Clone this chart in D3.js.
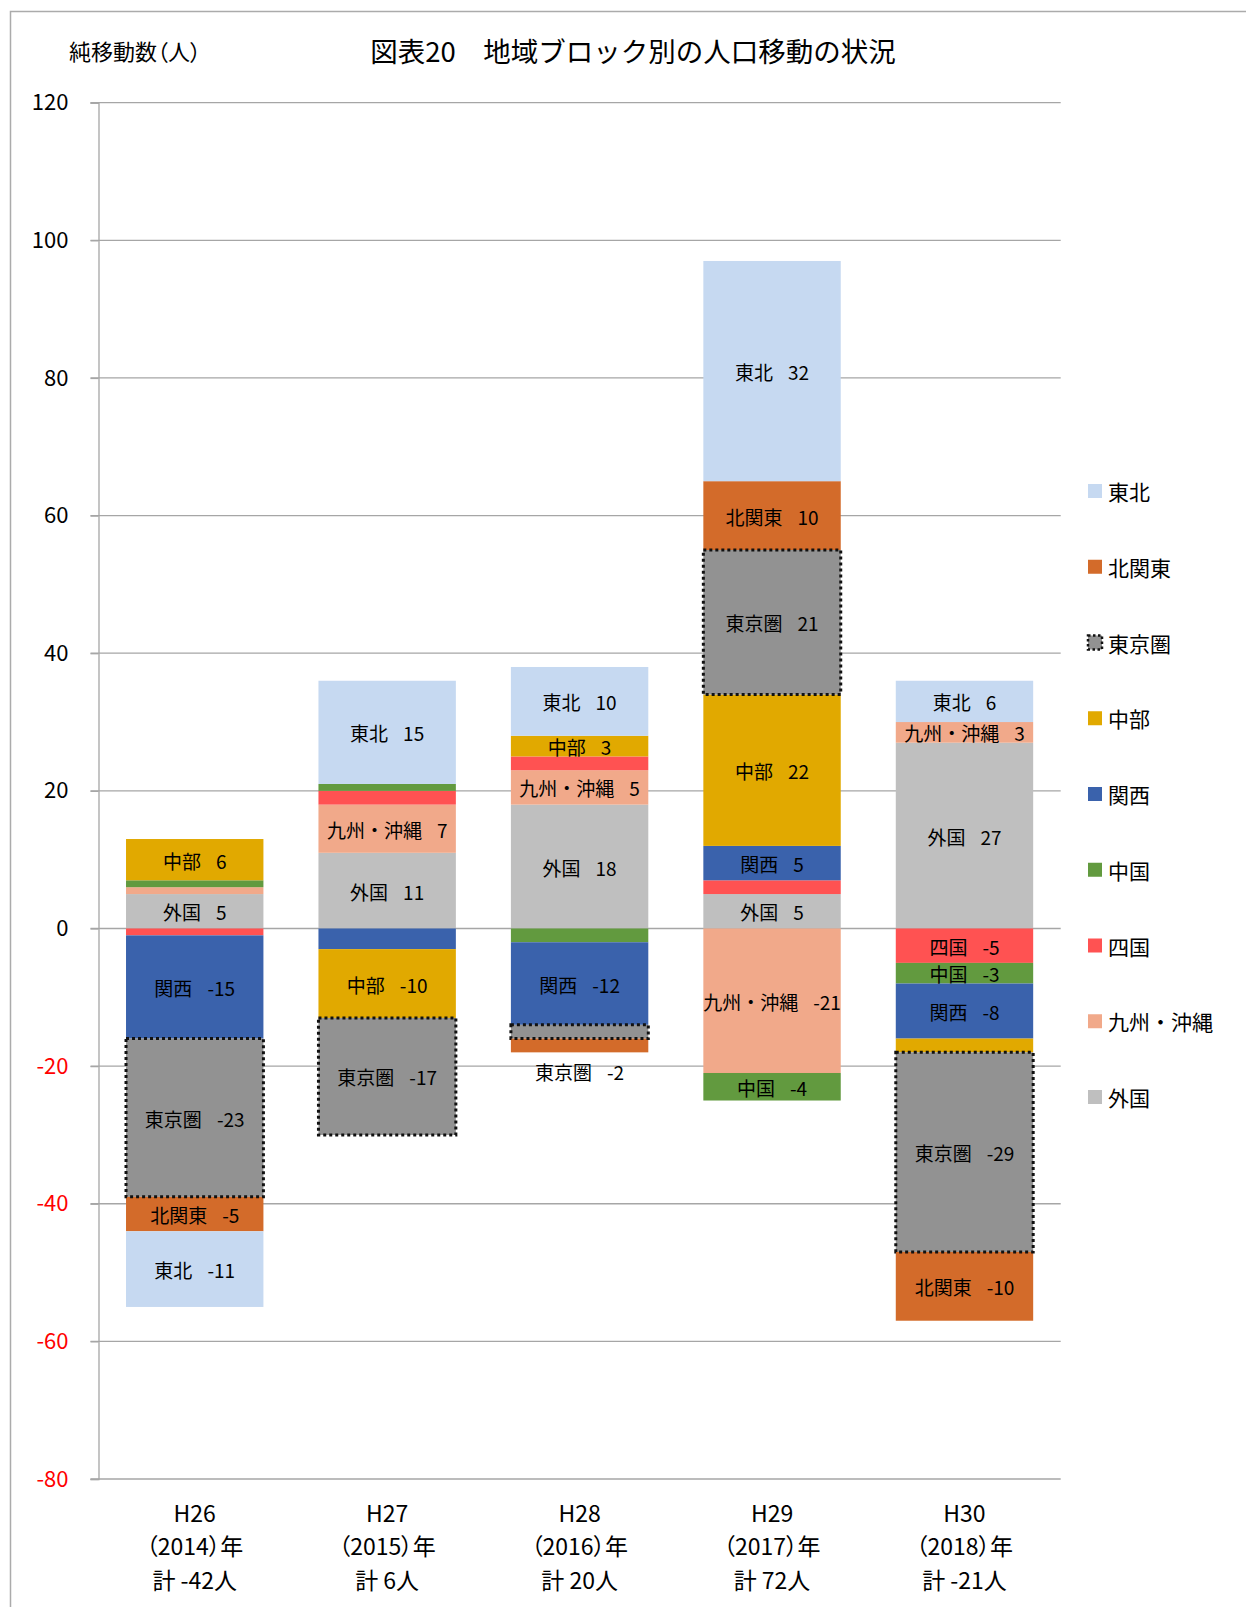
<!DOCTYPE html>
<html>
<head>
<meta charset="utf-8">
<script src="https://cdn.jsdelivr.net/npm/d3@7"></script>
<style>
  html, body { margin: 0; padding: 0; background: #fff; }
  svg { display: block; font-family: "Noto Sans CJK JP", "Noto Sans", sans-serif; }
</style>
</head>
<body>
<svg id="chart" width="1246" height="1607"></svg>
<script>
// Years shown on the category axis
const years = ["H26", "H27", "H28", "H29", "H30"];
const westernYears = ["2014", "2015", "2016", "2017", "2018"];

// Regional blocks, in legend order
const regions = ["東北", "北関東", "東京圏", "中部", "関西", "中国", "四国", "九州・沖縄", "外国"];

// Net migration per block, one value per year (H26..H30)
const tohoku      = [-11, 15, 10, 32, 6];
const kitaKanto   = [-5, 0, -2, 10, -10];
const tokyoArea   = [-23, -17, -2, 21, -29];
const chubu       = [6, -10, 3, 22, -2];
const kansai      = [-15, -3, -12, 5, -8];
const chugoku     = [1, 1, -2, -4, -3];
const shikoku     = [-1, 2, 2, 2, -5];
const kyushu      = [1, 7, 5, -21, 3];
const foreign     = [5, 11, 18, 5, 27];
const seriesValues = [tohoku, kitaKanto, tokyoArea, chubu, kansai, chugoku, shikoku, kyushu, foreign];

const yTicks = [-80, -60, -40, -20, 0, 20, 40, 60, 80, 100, 120];

// Segment labels that are left off, and the one placed under its bar
const hiddenLabels = ["H27|関西"];
const labelsBelowBar = ["H28|東京圏"];

const colors = {
  "東北": "#C6D9F1",
  "北関東": "#D36B2A",
  "東京圏": "#929292",
  "中部": "#E1A900",
  "関西": "#3A62AC",
  "中国": "#629A3F",
  "四国": "#FF5252",
  "九州・沖縄": "#F1A98A",
  "外国": "#BFBFBF"
};

// Row table for the stack layout
const table = years.map((yr, i) => {
  const row = { year: yr };
  regions.forEach((r, k) => { row[r] = seriesValues[k][i]; });
  return row;
});
const totals = years.map((yr, i) => d3.sum(seriesValues, s => s[i]));

// Stacks grow outward from zero starting with 外国
const stackKeys = regions.slice().reverse();
const stacked = d3.stack().keys(stackKeys).offset(d3.stackOffsetDiverging)(table);

const svg = d3.select("#chart");
const plotLeft = 98.5, plotRight = 1060.7, plotTop = 102.7, plotBottom = 1479;

const x = d3.scaleBand().domain(years).range([plotLeft, plotRight])
  .paddingInner(0.286).paddingOuter(0.143);
const y = d3.scaleLinear().domain([-80, 120]).range([plotBottom, plotTop]);

// Outer frame
svg.append("rect").attr("x", 10.5).attr("y", 11.5).attr("width", 1260).attr("height", 1620)
  .attr("fill", "none").attr("stroke", "#ABABAB").attr("stroke-width", 1.5);

// Gridlines
svg.append("g").selectAll("line").data(yTicks).join("line")
  .attr("x1", plotLeft - 8).attr("x2", plotRight)
  .attr("y1", d => y(d)).attr("y2", d => y(d))
  .attr("stroke", "#A6A6A6").attr("stroke-width", 1.3);

// Y axis with tick labels
const yAxis = svg.append("g").attr("transform", `translate(${plotLeft},0)`)
  .call(d3.axisLeft(y).tickValues(yTicks).tickSize(8).tickPadding(22).tickFormat(d => String(d)));
yAxis.select(".domain").attr("stroke", "#A6A6A6").attr("stroke-width", 1.3);
yAxis.selectAll(".tick line").attr("stroke", "#A6A6A6").attr("stroke-width", 1.3);
yAxis.selectAll(".tick text")
  .attr("font-size", 22)
  .attr("font-family", "\"Noto Sans CJK JP\", sans-serif")
  .attr("fill", d => d < 0 ? "#FF0000" : "#000");

// Bars
const barW = x.bandwidth();
const layers = svg.append("g").selectAll("g").data(stacked).join("g")
  .attr("fill", d => colors[d.key]);
layers.selectAll("rect").data(d => d.map(p => ({ key: d.key, p }))).join("rect")
  .attr("x", d => x(d.p.data.year))
  .attr("width", barW)
  .attr("y", d => y(Math.max(d.p[0], d.p[1])))
  .attr("height", d => Math.abs(y(d.p[0]) - y(d.p[1])));

// Dotted outline for 東京圏
const tokyoLayer = stacked.find(s => s.key === "東京圏");
svg.append("g").selectAll("rect").data(tokyoLayer.filter(p => p[0] !== p[1])).join("rect")
  .attr("x", p => x(p.data.year))
  .attr("width", barW)
  .attr("y", p => y(Math.max(p[0], p[1])))
  .attr("height", p => Math.abs(y(p[0]) - y(p[1])))
  .attr("fill", "none").attr("stroke", "#111").attr("stroke-width", 3)
  .attr("stroke-dasharray", "3 3");

// Segment labels
const labelData = [];
stacked.forEach(layer => {
  layer.forEach(p => {
    const v = p.data[layer.key];
    const id = p.data.year + "|" + layer.key;
    if (v === 0) return;
    if (hiddenLabels.includes(id)) return;
    const below = labelsBelowBar.includes(id);
    if (!below && Math.abs(v) < 3) return;
    let cy;
    if (below) {
      const i = years.indexOf(p.data.year);
      const bottom = d3.min(stacked, s => s[i][0]);
      cy = y(bottom) + 19;
    } else {
      cy = (y(p[0]) + y(p[1])) / 2;
    }
    labelData.push({ name: layer.key, v, cx: x(p.data.year) + barW / 2, cy });
  });
});
const labels = svg.append("g").selectAll("text").data(labelData).join("text")
  .attr("x", d => d.cx).attr("y", d => d.cy)
  .attr("text-anchor", "middle").attr("dominant-baseline", "central")
  .attr("font-size", 19).attr("fill", "#000");
labels.append("tspan").text(d => d.name);
labels.append("tspan").attr("dx", 15).text(d => d.v);

// Category labels
const catG = svg.append("g").selectAll("text").data(years).join("text")
  .attr("x", d => x(d) + barW / 2)
  .attr("text-anchor", "middle").attr("font-size", 23).attr("fill", "#000");
catG.append("tspan").attr("x", d => x(d) + barW / 2).attr("y", 1522).text(d => d);
catG.append("tspan").attr("x", d => x(d) + barW / 2).attr("y", 1555)
  .style("font-feature-settings", "'palt'")
  .text((d, i) => "（" + westernYears[i] + "）年");
catG.append("tspan").attr("x", d => x(d) + barW / 2).attr("y", 1589)
  .text((d, i) => "計 " + totals[i] + "人");

// Title and axis caption
svg.append("text").attr("x", 633).attr("y", 50).attr("text-anchor", "middle")
  .attr("dominant-baseline", "central").attr("font-size", 27.5).attr("fill", "#000")
  .text("図表20　地域ブロック別の人口移動の状況");
svg.append("text").attr("x", 69).attr("y", 50)
  .attr("dominant-baseline", "central").attr("font-size", 22).attr("fill", "#000")
  .style("font-feature-settings", "'palt'")
  .text("純移動数（人）");

// Legend
const legend = svg.append("g").selectAll("g").data(regions).join("g")
  .attr("transform", (d, i) => `translate(1088, ${491 + i * 75.75})`);
legend.append("rect").attr("x", 0).attr("y", -7).attr("width", 14).attr("height", 14)
  .attr("fill", d => colors[d])
  .attr("stroke", d => d === "東京圏" ? "#111" : "none")
  .attr("stroke-width", d => d === "東京圏" ? 2.5 : 0)
  .attr("stroke-dasharray", "2.5 2.5");
legend.append("text").attr("x", 20).attr("y", 0).attr("dominant-baseline", "central")
  .attr("font-size", 21).attr("fill", "#000").text(d => d);
</script>
</body>
</html>
